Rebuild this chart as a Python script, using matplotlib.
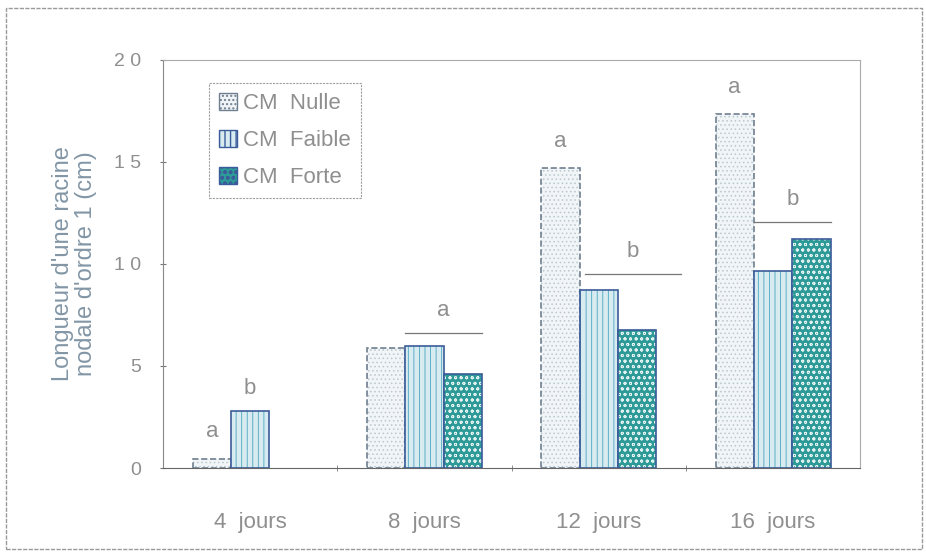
import numpy as np
import matplotlib.pyplot as plt
from matplotlib.patches import Rectangle, Patch

# données
jours = ["4  jours", "8  jours", "12  jours", "16  jours"]
series = ["CM  Nulle", "CM  Faible", "CM  Forte"]
nulle = [0.45, 5.9, 14.7, 17.35]
faible = [2.8, 6.0, 8.7, 9.65]
forte = [0.0, 4.6, 6.75, 11.2]

# lettres de significativité
lettres_nulle = ["a", None, "a", "a"]
lettres_groupe = [None, "a", "b", "b"]
barres_groupe = [None, 6.6, 9.5, 12.05]

plt.rcParams['font.family'] = ['Liberation Sans', 'DejaVu Sans']
gris = '#8f8f8f'
bleu = '#3b5c9a'

fig = plt.figure(figsize=(9.26, 5.53), dpi=100)
ax = fig.add_axes([0.176, 0.1537, 0.753, 0.738])

# cadre extérieur
fig.patches.append(Rectangle((0.006, 0.008), 0.99, 0.977, transform=fig.transFigure,
                             fill=False, edgecolor='#999999', lw=1.0, ls=(0, (3, 1))))

x = np.arange(len(jours))
w = 0.22
styles = [
    dict(fc='#f1f5f7', hatch='....', hc='#b9c8cf', ec='#6f7f8f', ls='--'),
    dict(fc='#d7ebf0', hatch='|||', hc='#4aa6bf', ec=bleu, ls='-'),
    dict(fc='#2e9a98', hatch='ooo', hc='#e3f3f2', ec=bleu, ls='-'),
]
for i, (vals, st) in enumerate(zip([nulle, faible, forte], styles)):
    pos = x + (i - 1) * w
    vals = np.array(vals)
    keep = vals > 0
    with plt.rc_context({'hatch.linewidth': 0.6}):
        ax.bar(pos[keep], vals[keep], w, color=st['fc'], edgecolor=st['hc'],
               hatch=st['hatch'], lw=0)
    ax.bar(pos[keep], vals[keep], w, fill=False, edgecolor=st['ec'], lw=1.2, ls=st['ls'])

# lettres au-dessus des barres
for i in range(len(jours)):
    if lettres_nulle[i]:
        ax.text(x[i] - w, nulle[i] + 0.8, lettres_nulle[i], ha='center', va='bottom',
                fontsize=16, color=gris)
    if lettres_groupe[i]:
        x0, x1 = x[i] - 0.5 * w, x[i] + 1.5 * w
        if i == 2:
            x0, x1 = x0 + 0.03, x1 + 0.14
        ax.plot([x0, x1], [barres_groupe[i]] * 2, color='#777777', lw=0.9)
        ax.text((x0 + x1) / 2, barres_groupe[i] + 0.6, lettres_groupe[i], ha='center',
                va='bottom', fontsize=16, color=gris)
ax.text(x[0], faible[0] + 0.6, "b", ha='center', va='bottom', fontsize=16, color=gris)

ax.set_xlim(-0.5, 3.5)
ax.set_ylim(0, 20)
ax.set_yticks([0, 5, 10, 15, 20])
ax.set_yticklabels(["0", "5", "1 0", "1 5", "2 0"])
ax.set_xticks(x)
ax.set_xticklabels(jours)
ax.set_xticks([0.5, 1.5, 2.5], minor=True)
ax.tick_params(axis='x', which='major', length=0, pad=32, labelsize=16, labelcolor=gris)
ax.tick_params(axis='x', which='minor', length=5, direction='inout', color='#777777')
ax.tick_params(axis='y', length=4, direction='inout', color='#777777', labelsize=14,
               labelcolor=gris, pad=14)
for s in ['top', 'right']:
    ax.spines[s].set_color('#aaaaaa')
    ax.spines[s].set_linestyle((0, (2, 1)))
    ax.spines[s].set_linewidth(0.8)
ax.spines['left'].set_color('#888888')
ax.spines['bottom'].set_color('#666666')
ax.spines['left'].set_linestyle((0, (3, 1)))

ax.set_ylabel("Longueur d'une racine\nnodale d'ordre 1 (cm)", fontsize=17,
              color='#8296a6', labelpad=12, linespacing=1.05)

handles = [Patch(facecolor=st['fc'], edgecolor=st['hc'], hatch=st['hatch'], lw=0)
           for st in styles]
leg = ax.legend(handles, series, loc='upper left', bbox_to_anchor=(0.05, 0.97),
                frameon=True, fancybox=False, fontsize=16, handlelength=0.8,
                handleheight=0.8, handletextpad=0.3, labelspacing=0.7,
                borderpad=0.45, labelcolor=gris)
leg.get_frame().set_edgecolor('#888888')
leg.get_frame().set_linestyle((0, (2, 1)))
leg.get_frame().set_linewidth(0.8)
for p, st in zip(leg.get_patches(), styles):
    p.set_edgecolor(st['ec'])
    p.set_linewidth(1.0)

fig.savefig("out.png", dpi=100)
